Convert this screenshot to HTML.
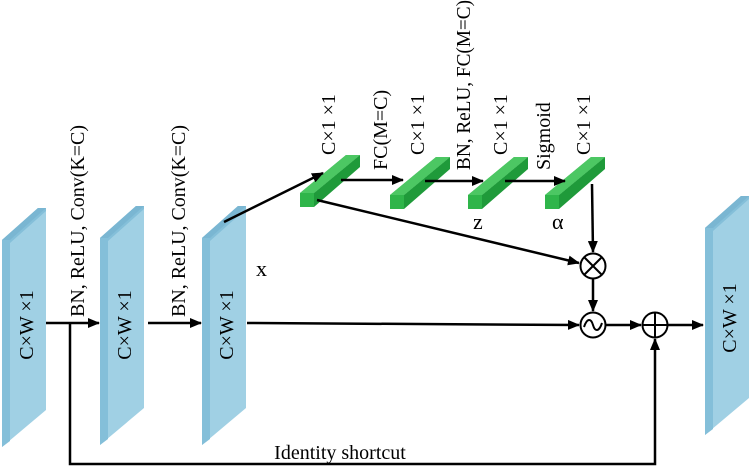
<!DOCTYPE html>
<html><head><meta charset="utf-8"><style>body{margin:0;background:#fff}svg{display:block}text{font-family:"Liberation Serif",serif;fill:#000}</style></head><body>
<svg width="751" height="468" viewBox="0 0 751 468" xmlns="http://www.w3.org/2000/svg">
<defs>
<marker id="a" markerWidth="12" markerHeight="10" refX="11" refY="5" orient="auto" markerUnits="userSpaceOnUse"><path d="M0,0 L12,5 L0,10 z" fill="#000"/></marker>
<g id="p">
<polygon points="0,32 36,0 44,0 44,202 0,239" fill="#a0d0e4"/>
<polygon points="0,32 36,0 44,0 44,3 8,35 8,233 0,239" fill="#84bfd9"/>
<polygon points="0,32 36,0 44,0 8,32" fill="#7ab6d2"/>
</g>
<g id="g">
<polygon points="0,38 46,0 60,0 14,38 14,52 0,52" fill="#2fb54a"/>
<polygon points="14,38 60,0 60,12 14,52" fill="#1f9a3a"/>
<polygon points="0,38 46,0 60,0 14,38" fill="#4cc763"/>
</g>
</defs>
<use href="#p" x="2" y="208"/>
<use href="#p" x="100" y="206"/>
<use href="#p" x="202" y="206"/>
<use href="#p" x="705" y="196"/>
<g font-size="20">
<text transform="translate(33,325) rotate(-90)" text-anchor="middle">C×W ×1</text>
<text transform="translate(131,325) rotate(-90)" text-anchor="middle">C×W ×1</text>
<text transform="translate(233,325) rotate(-90)" text-anchor="middle">C×W ×1</text>
<text transform="translate(736,318) rotate(-90)" text-anchor="middle">C×W ×1</text>
<text transform="translate(84,317) rotate(-90)" textLength="192" lengthAdjust="spacingAndGlyphs">BN, ReLU, Conv(K=C)</text>
<text transform="translate(185,317) rotate(-90)" textLength="192" lengthAdjust="spacingAndGlyphs">BN, ReLU, Conv(K=C)</text>
<text transform="translate(335,155) rotate(-90)">C×1 ×1</text>
<text transform="translate(387,170) rotate(-90)">FC(M=C)</text>
<text transform="translate(424,155) rotate(-90)">C×1 ×1</text>
<text transform="translate(470,170) rotate(-90)" textLength="170" lengthAdjust="spacingAndGlyphs">BN, ReLU, FC(M=C)</text>
<text transform="translate(507,155) rotate(-90)">C×1 ×1</text>
<text transform="translate(550,170) rotate(-90)">Sigmoid</text>
<text transform="translate(590,155) rotate(-90)">C×1 ×1</text>
<text x="256" y="276" font-size="22">x</text>
<text x="473" y="229" font-size="22">z</text>
<text x="552" y="229" font-size="22">α</text>
<text x="340" y="459" text-anchor="middle">Identity shortcut</text>
</g>
<use href="#g" x="300" y="155"/>
<use href="#g" x="390" y="157"/>
<use href="#g" x="468" y="157"/>
<use href="#g" x="545" y="157"/>
<g stroke="#000" stroke-width="2.5" fill="none">
<line x1="46" y1="323" x2="99" y2="323" marker-end="url(#a)"/>
<line x1="148" y1="323" x2="201" y2="323" marker-end="url(#a)"/>
<line x1="247" y1="323" x2="579" y2="325" marker-end="url(#a)"/>
<polyline points="70,323 70,464 655,464 655,339" marker-end="url(#a)"/>
<line x1="224" y1="222" x2="323" y2="173" marker-end="url(#a)"/>
<line x1="341" y1="180" x2="403" y2="180" marker-end="url(#a)"/>
<line x1="425" y1="181" x2="483" y2="181" marker-end="url(#a)"/>
<line x1="505" y1="181" x2="565" y2="181" marker-end="url(#a)"/>
<line x1="317" y1="200" x2="579" y2="263" marker-end="url(#a)"/>
<line x1="592" y1="184" x2="593" y2="252" marker-end="url(#a)"/>
<line x1="593" y1="279" x2="593" y2="311" marker-end="url(#a)"/>
<line x1="606" y1="325" x2="641" y2="325" marker-end="url(#a)"/>
<line x1="668" y1="325" x2="703" y2="325" marker-end="url(#a)"/>
</g>
<g stroke="#000" stroke-width="2" fill="#fff">
<circle cx="593" cy="266" r="12.5"/>
<circle cx="593" cy="325" r="12.5"/>
<circle cx="655" cy="325" r="12.5"/>
</g>
<g stroke="#000" stroke-width="2" fill="none">
<line x1="584" y1="257" x2="602" y2="275"/><line x1="602" y1="257" x2="584" y2="275"/>
<line x1="642.5" y1="325" x2="667.5" y2="325"/><line x1="655" y1="312.5" x2="655" y2="337.5"/>
<path d="M584,327 C587,318 591,318 593,325 C595,332 599,332 602,323"/>
</g>
</svg>
</body></html>
